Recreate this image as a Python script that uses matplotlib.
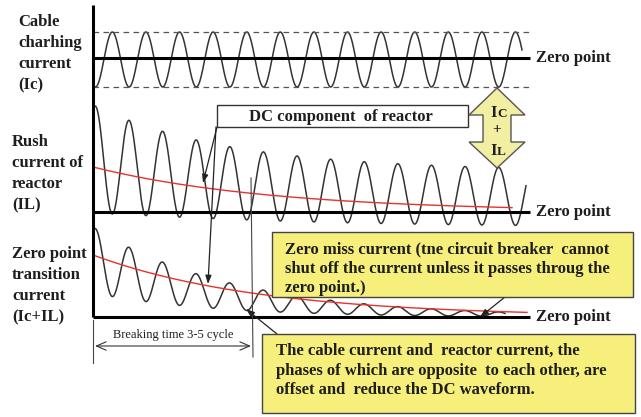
import numpy as np
import matplotlib
matplotlib.use("Agg")
import matplotlib.pyplot as plt
from matplotlib.patches import Rectangle, Polygon

# --- values (pixel units, y grows downwards) ---
W, H = 641, 417
axis_x = 93
zero_y = [58, 212, 317]            # zero lines of the three traces
zero_end = 530
dash_y = [32, 87]                  # +/- peak of the cable charging current

period = 33.6                      # one cycle
phase_x = 95.5                     # first peak of the rush current

ic_amp = 27.5
ic_centre = 59.5
ic_end = 522

il_centre = [199, 40, 150]         # level, offset, decay length
il_amp = [28, 26, 120]
il_end = 526
il_dc = [45, 180, 512]             # red DC curve: offset, decay, end

sum_centre = [57, 136]
sum_amp = [33, 150]
sum_end = 505
sum_dc = [62, 167, 527]

labels_left = [
    (18, 14, "Cable\ncharhing\ncurrent\n(Ic)"),
    (12, 134, "Rush\ncurrent of\nreactor\n(IL)"),
    (12, 246, "Zero point\ntransition\ncurrent\n(Ic+IL)"),
]
zero_text = "Zero point"
dc_text = "DC component  of reactor"
miss_text = ("Zero miss current (tne circuit breaker  cannot\n"
             "shut off the current unless it passes throug the\n"
             "zero point.)")
offset_text = ("The cable current and  reactor current, the\n"
               "phases of which are opposite  to each other, are\n"
               "offset and  reduce the DC waveform.")
break_text = "Breaking time 3-5 cycle"

ink = "#1e1e1e"
wave_col = "#333333"
red = "#e8322e"
note_yellow = "#f6ef7c"
arrow_yellow = "#f2eea2"
serif = "Liberation Serif"

fig = plt.figure(figsize=(W / 100, H / 100), dpi=100)
ax = fig.add_axes([0, 0, 1, 1])
ax.set_xlim(0, W)
ax.set_ylim(H, 0)
ax.axis("off")


def cyc(x):
    return np.cos(2 * np.pi * (x - phase_x) / period)


# cable charging current
x1 = np.linspace(94, ic_end, 1500)
ax.plot(x1, ic_centre + ic_amp * cyc(x1), color=wave_col, lw=1.1)
for y in dash_y:
    ax.plot([axis_x, zero_end], [y, y], color="#555555", lw=0.9,
            dashes=(4.5, 3.5))

# rush current of reactor
x2 = np.linspace(94, il_end, 1500)
c2 = il_centre[0] - il_centre[1] * np.exp(-(x2 - axis_x) / il_centre[2])
a2 = il_amp[0] + il_amp[1] * np.exp(-(x2 - axis_x) / il_amp[2])
ax.plot(x2, c2 - a2 * cyc(x2), color=wave_col, lw=1.1)
xd2 = np.linspace(axis_x, il_dc[2], 300)
ax.plot(xd2, zero_y[1] - il_dc[0] * np.exp(-(xd2 - axis_x) / il_dc[1]),
        color=red, lw=1.0)

# zero point transition current
x3 = np.linspace(94, sum_end, 1500)
c3 = zero_y[2] - sum_centre[0] * np.exp(-(x3 - axis_x) / sum_centre[1])
a3 = sum_amp[0] * np.exp(-(x3 - axis_x) / sum_amp[1])
ax.plot(x3, c3 - a3 * cyc(x3), color=wave_col, lw=1.1)
xd3 = np.linspace(axis_x, sum_dc[2], 300)
ax.plot(xd3, zero_y[2] - sum_dc[0] * np.exp(-(xd3 - axis_x) / sum_dc[1]),
        color=red, lw=1.0)

# axis and zero lines
ax.plot([axis_x, axis_x], [5, zero_y[2]], color="black", lw=2.2,
        solid_capstyle="butt")
for y in zero_y:
    ax.plot([axis_x, zero_end], [y, y], color="black", lw=2.2,
            solid_capstyle="butt")
    ax.text(536, y, zero_text, family=serif, weight="bold", fontsize=12,
            color=ink, va="center", ha="left")

for x, y, s in labels_left:
    ax.text(x, y, s, family=serif, weight="bold", fontsize=12, color=ink,
            va="top", ha="left", linespacing=1.42)

# DC component label with its pointers
ax.add_patch(Rectangle((217, 105), 251, 22, fc="white", ec="#333333",
                       lw=1.0, zorder=4))
ax.text(341, 116.5, dc_text, family=serif, weight="bold", fontsize=12,
        color=ink, ha="center", va="center", zorder=5)
pointer = dict(arrowstyle="-|>,head_length=0.5,head_width=0.18",
               color="#222222", lw=0.9, shrinkA=0, shrinkB=0)
ax.annotate("", xy=(203, 183), xytext=(217, 127), arrowprops=pointer)
ax.annotate("", xy=(208, 284), xytext=(216, 127), arrowprops=pointer)

# Ic + IL double arrow
ax.add_patch(Polygon([(497, 88), (525, 115), (511, 115), (511, 142),
                      (525, 142), (497, 168), (469, 142), (483, 142),
                      (483, 115), (469, 115)], closed=True,
                     fc=arrow_yellow, ec="#555555", lw=1.0, zorder=4))
for y, big, small in [(113, "I", "C"), (151, "I", "L")]:
    ax.text(497, y, big, family=serif, weight="bold", fontsize=12,
            color=ink, ha="right", va="center", zorder=5)
    ax.text(497, y + 1, small, family=serif, weight="bold", fontsize=9.5,
            color=ink, ha="left", va="center", zorder=5)
ax.text(497, 130, "+", family=serif, weight="bold", fontsize=11,
        color=ink, ha="center", va="center", zorder=5)

# breaking time
ax.plot([axis_x, axis_x], [320, 363], color="#444444", lw=0.8)
ax.plot([251, 253], [178, 357], color="#444444", lw=0.8)
ax.annotate("", xy=(95, 346), xytext=(251, 346),
            arrowprops=dict(arrowstyle="<->,head_length=0.7,head_width=0.3",
                            color="#333333", lw=0.8, shrinkA=0, shrinkB=0))
ax.text(173, 335, break_text, family=serif, fontsize=9, color=ink,
        ha="center", va="center")

# yellow notes
ax.add_patch(Rectangle((272, 232), 361, 65, fc=note_yellow, ec="#444444",
                       lw=1.0, zorder=4))
ax.text(285, 241, miss_text, family=serif, weight="bold", fontsize=12,
        color=ink, ha="left", va="top", linespacing=1.3, zorder=5)
ax.add_patch(Rectangle((262, 334), 373, 79, fc=note_yellow, ec="#444444",
                       lw=1.0, zorder=4))
ax.text(276, 343, offset_text, family=serif, weight="bold", fontsize=12,
        color=ink, ha="left", va="top", linespacing=1.3, zorder=5)
ax.annotate("", xy=(480, 317), xytext=(505, 297), arrowprops=pointer)
ax.annotate("", xy=(246, 309), xytext=(277, 334), arrowprops=pointer)

fig.savefig("out.png", dpi=100)
